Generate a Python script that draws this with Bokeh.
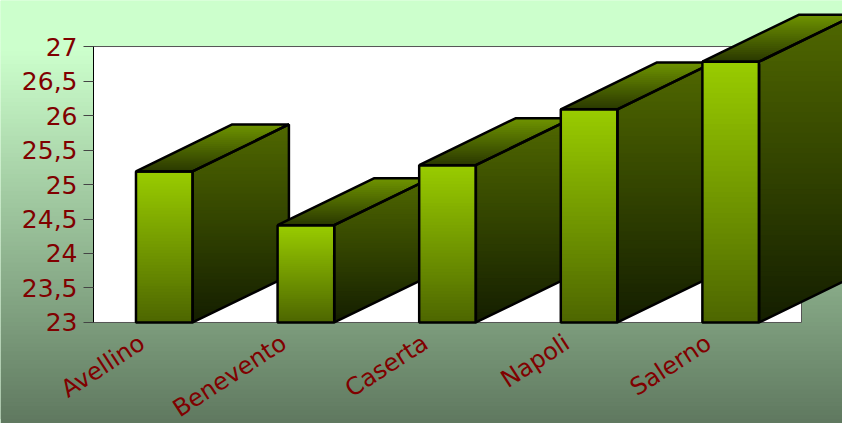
import numpy as np
from bokeh.core.properties import value
from bokeh.embed import file_html
from bokeh.models import FixedTicker, LinearAxis, Range1d
from bokeh.plotting import figure
from bokeh.resources import INLINE

categories = ["Avellino", "Benevento", "Caserta", "Napoli", "Salerno"]
values = [25.19, 24.41, 25.28, 26.09, 26.78]
y_ticks = [23, 23.5, 24, 24.5, 25, 25.5, 26, 26.5, 27]
y_labels = ["23", "23,5", "24", "24,5", "25", "25,5", "26", "26,5", "27"]

BASE = 23.0
BAR_W = 0.40
DX = 0.68
DV = 0.68
TEXT = "#800000"
X0, X1 = -1.1568, 4.7895
Y0, Y1 = 21.536, 27.667


def mix(c0, c1, t):
    c0, c1 = np.array(c0, float), np.array(c1, float)
    r, g, b = (c0 + (c1 - c0) * t).round().astype(int)
    return f"#{r:02x}{g:02x}{b:02x}"


p = figure(width=842, height=423, output_backend="svg", toolbar_location=None,
           x_axis_location=None, y_axis_location=None, min_border=0,
           x_range=Range1d(X0, X1), y_range=Range1d(Y0, Y1),
           background_fill_color="#ccffcc", border_fill_color="#ccffcc",
           outline_line_color=None)
p.grid.visible = False

# page background gradient, painted bottom-up with overlap so no seams show
edges = np.linspace(Y0, Y1, 101)
bg = [mix((204, 255, 204), (95, 120, 95),
          float(np.clip((26.94 - 0.5 * (lo + hi)) / (26.94 - Y0), 0, 1)))
      for lo, hi in zip(edges[:-1], edges[1:])]
p.quad(left=X0, right=X1, bottom=edges[:-1],
       top=np.append(edges[2:], [Y1]), fill_color=bg, line_color=None)

# plot area
p.quad(left=-0.5, right=4.5, bottom=BASE, top=27, fill_color="white",
       line_color="#555555", line_width=1)

fx, fy, fc, fa, fl, fw = [], [], [], [], [], []


def band(x_pts, y_pts, col):
    fx.append(list(x_pts))
    fy.append(list(y_pts))
    fc.append(col)
    fa.append(1.0)
    fl.append(None)
    fw.append(0)


def outline(x_pts, y_pts):
    fx.append(list(x_pts))
    fy.append(list(y_pts))
    fc.append("black")
    fa.append(0.0)
    fl.append("black")
    fw.append(2.5)


for i, v in enumerate(values):
    x0, x1 = i - BAR_W / 2, i + BAR_W / 2

    # top face
    n = 24
    tt = np.linspace(0, 1, n + 1)
    for k in range(n):
        a, b = tt[k], tt[min(k + 2, n)]
        c = mix((42, 56, 0), (111, 148, 0), (k + 0.5) / n)
        band([x0 + a * DX, x1 + a * DX, x1 + b * DX, x0 + b * DX],
             [v + a * DV, v + a * DV, v + b * DV, v + b * DV], c)

    # side face, horizontal bands through the parallelogram
    n = 60
    vv = np.linspace(BASE, v + DV, n + 1)
    left = lambda u: x1 + max(0.0, u - v) / DV * DX
    right = lambda u: x1 + min(1.0, (u - BASE) / DV) * DX
    for k in range(n):
        a, b = vv[k], vv[min(k + 2, n)]
        c = mix((20, 30, 0), (80, 104, 0), (k + 0.5) / n)
        band([left(a), right(a), right(b), left(b)], [a, a, b, b], c)

    # front face
    n = 50
    vv = np.linspace(BASE, v, n + 1)
    for k in range(n):
        a, b = vv[k], vv[min(k + 2, n)]
        c = mix((77, 102, 0), (153, 204, 0), (k + 0.5) / n)
        band([x0, x1, x1, x0], [a, a, b, b], c)

    outline([x0, x1, x1, x0], [BASE, BASE, v, v])
    outline([x1, x1 + DX, x1 + DX, x1], [BASE, BASE + DV, v + DV, v])
    outline([x0, x1, x1 + DX, x0 + DX], [v, v, v + DV, v + DV])

p.patches(fx, fy, fill_color=fc, fill_alpha=fa, line_color=fl, line_width=fw)

yaxis = LinearAxis(fixed_location=-0.5, ticker=FixedTicker(ticks=y_ticks),
                   major_label_overrides=dict(zip(y_ticks, y_labels)),
                   bounds=(23, 27))
yaxis.major_label_text_color = TEXT
yaxis.major_label_text_font = "DejaVu Sans"
yaxis.major_label_text_font_size = "25px"
yaxis.major_label_standoff = 6
yaxis.major_tick_out = 10
yaxis.major_tick_in = 0
yaxis.minor_tick_line_color = None
yaxis.major_tick_line_color = "#444444"
yaxis.axis_line_color = "black"
p.add_layout(yaxis, "left")

# category labels, right end anchored below each bar
p.text(x=list(range(len(categories))), y=[BASE] * len(categories), text=categories,
       angle=33, angle_units="deg", text_align="right", text_baseline="middle",
       x_offset=-22, y_offset=18, text_color=TEXT,
       text_font=value("DejaVu Sans"), text_font_size="24px")

open("out.html", "w").write(file_html(p, INLINE))
